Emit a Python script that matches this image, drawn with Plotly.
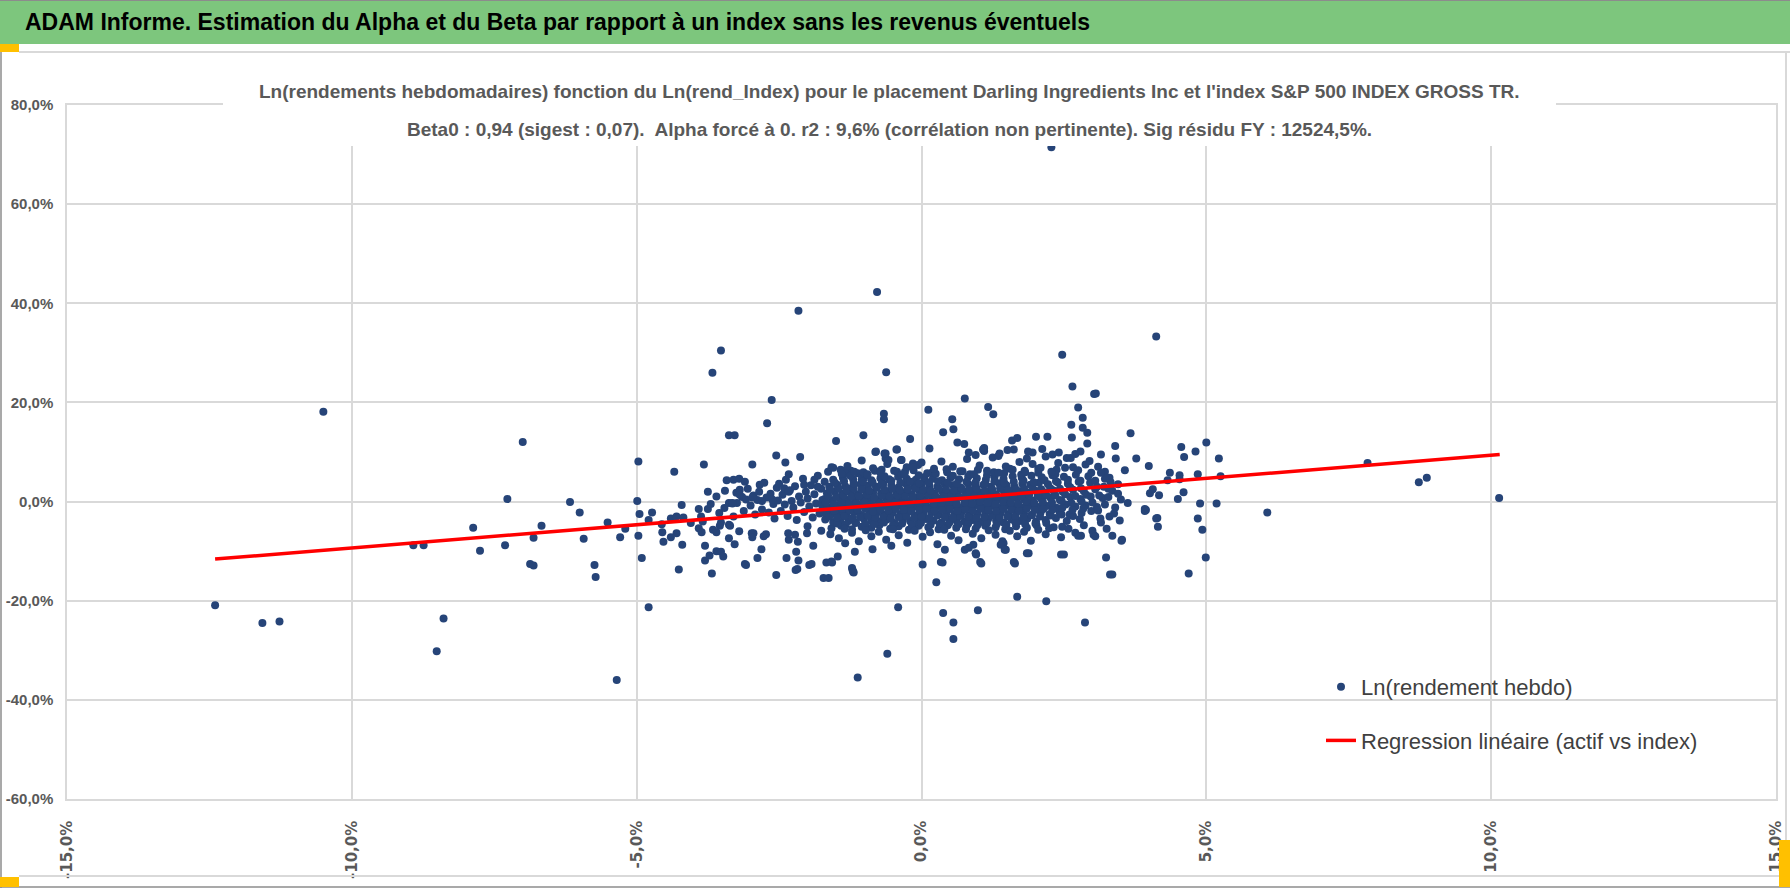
import plotly.graph_objects as go

# taille de la page et zone de tracé (pixels)
W, H = 1790, 888
L, R, T, B = 67, 14, 105, 89

titre_bandeau = "ADAM Informe. Estimation du Alpha et du Beta par rapport à un index sans les revenus éventuels"
titre_l1 = "Ln(rendements hebdomadaires) fonction du Ln(rend_Index) pour le placement Darling Ingredients Inc et l'index S&P 500 INDEX GROSS TR."
titre_l2 = "Beta0 : 0,94 (sigest : 0,07).  Alpha forcé à 0. r2 : 9,6% (corrélation non pertinente). Sig résidu FY : 12524,5%."

x_ticks = [-15, -10, -5, 0, 5, 10, 15]
x_tick_labels = ["-15,0%", "-10,0%", "-5,0%", "0,0%", "5,0%", "10,0%", "15,0%"]
y_ticks = [-60, -40, -20, 0, 20, 40, 60, 80]
y_tick_labels = ["-60,0%", "-40,0%", "-20,0%", "0,0%", "20,0%", "40,0%", "60,0%", "80,0%"]

# regression (actif vs index), extremites
reg_x = [-12.40, 10.15]
reg_y = [-11.6, 9.5]

# points a gauche (index < -1,7 %)
left_x = [
    -12.40, -11.57, -11.27, -10.50, -8.92, -8.74, -8.39, -8.51, -7.87, -7.75,
    -7.31, -7.27, -7.00, -6.87, -6.81, -6.81, -6.67, -6.17, -6.00, -5.93,
    -5.74, -5.72, -5.51, -5.35, -5.29, -5.20, -4.99, -4.97, -4.95, -4.97,
    -4.91, -4.79, -4.79, -4.73, -4.56, -4.55, -4.53, -4.40, -4.30, -4.30,
    -4.40, -4.34, -4.26, -4.20, -4.21, -4.18, -4.05, -3.91, -3.75, -3.87,
    -3.84, -3.91, -3.86, -3.82, -3.80, -3.80, -3.72, -3.68, -3.67, -3.66,
    -3.60, -3.60, -3.52, -3.48, -3.52, -3.54, -3.52, -3.46, -3.42, -3.38,
    -3.28, -3.38, -3.36, -3.38, -3.28, -3.30, -3.20, -3.10, -3.38, -3.32,
    -3.24, -3.30, -3.20, -3.10, -3.08, -2.97, -2.98, -2.95, -2.97, -2.88,
    -2.84, -2.81, -2.77, -2.73, -2.71, -2.63, -2.55, -2.55, -2.54, -2.39,
    -2.37, -2.33, -2.33, -2.34, -2.21, -2.20, -2.16, -2.16, -2.13, -2.17,
    -2.22, -1.97, -1.90, -2.01, -2.00, -1.72, -1.67, -1.76, -2.18, -1.93,
]
left_y = [
    -20.9, -24.5, -24.2, 18.1, -8.8, -8.8, -23.6, -30.2, -5.3, -9.9,
    -8.8, 0.5, 12.0, -12.6, -12.9, -7.3, -4.9, -0.1, -2.2, -7.5,
    -12.8, -15.2, -4.2, -36.0, -7.2, -5.5, 0.1, 8.1, -2.5, -6.9,
    -11.4, -21.3, -3.7, -2.2, -4.6, -6.2, -8.1, -3.4, -3.0, -6.4,
    -7.2, 6.0, -13.7, -8.7, -0.7, -3.2, -4.3, -1.5, -1.5, -3.0,
    -4.0, -5.4, -6.2, 7.5, -8.9, -11.9, -10.9, -14.5, 26.0, -5.7,
    -6.2, -10.0, -10.1, -11.1, 30.5, -4.9, -4.2, -1.3, 4.3, 13.4,
    13.4, -4.7, -4.9, -7.4, -8.6, 4.4, 4.6, 4.0, -0.3, -0.3,
    -0.3, -3.0, -6.0, -12.6, -12.8, 7.5, -6.4, -6.4, -7.2, -11.4,
    3.4, -9.6, -7.0, -6.6, 15.8, 20.5, 9.3, -14.8, 2.8, 7.9,
    -11.4, 5.5, -7.7, -6.4, -13.8, -10.1, 38.5, -11.9, 9.0, -8.1,
    -6.7, -12.8, -8.9, -6.4, -5.0, -15.4, -12.3, -5.9, -13.6, -12.6,
]

# bande semi-dense entre -3,8 % et -1,7 %
band_x = [
    -3.75, -3.70, -3.60, -3.55, -3.45, -3.25, -3.15, -3.12, -3.05, -3.00,
    -2.95, -2.92, -2.88, -2.85, -2.80, -2.76, -2.72, -2.68, -2.65, -2.60,
    -2.58, -2.52, -2.50, -2.47, -2.44, -2.40, -2.38, -2.35, -2.31, -2.28,
    -2.25, -2.22, -2.19, -2.15, -2.12, -2.08, -2.06, -2.03, -2.00, -1.97,
    -1.94, -1.91, -1.88, -1.85, -1.82, -1.79, -1.76, -1.74, -1.72, -1.70,
    -3.19, -3.19, -3.08, -3.32, -2.97, -2.80, -2.62, -2.41, -2.33, -2.06,
    -1.88, -1.82, -1.64, -1.58, -1.42, -1.35, -1.24, -1.12, -1.05, -1.01,
    -0.82, -0.80, -0.65, -0.63, -0.58, -0.44, -0.36, -0.26, -0.15, -0.29,
    -0.06,
]
band_y = [
    2.0, -0.5, 1.0, -2.3, 2.2, 1.8, 0.9, -1.9, 2.6, -0.8,
    1.2, -2.6, 0.3, 2.0, -1.6, 3.8, 0.8, -2.2, 1.6, -0.5,
    -3.4, 0.2, 3.6, -1.9, 1.4, -0.6, 4.4, -2.9, 2.3, 0.1,
    -1.2, 3.1, -3.7, 1.0, -0.2, 4.6, -2.1, 2.0, 0.6, -1.0,
    3.3, -3.2, 1.5, -0.4, 5.2, -2.4, 2.6, 0.3, -1.5, 4.0,
    2.4, 1.4, 0.4, -0.4, 0.8, 0.1, 0.4, 2.7, 2.0, 3.4,
    4.4, 3.0, 6.0, 6.9, 6.4, 5.7, 6.2, 5.7, 4.4, 4.7,
    6.2, 10.1, 9.7, 8.7, 8.4, 10.5, 8.4, 6.9, 7.7, 6.0,
    7.4,
]

# noyau dense, lu rangee par rangee
core_x = [
    -1.58, -1.41, -1.22, -1.05, -0.88, -0.74, -0.55, -0.40, -0.22, -0.05, 0.12, 0.30,
    0.46, 0.61, 0.79, 0.95, 1.12, 1.30, 1.47, 1.66, 1.85, 2.02, 2.24, 2.47,
    -1.69, -1.55, -1.42, -1.28, -1.15, -1.01, -0.88, -0.74, -0.61, -0.47, -0.33, -0.20,
    -0.06, 0.08, 0.21, 0.35, 0.49, 0.62, 0.76, 0.90, 1.03, 1.17, 1.31, 1.44,
    1.58, 1.72, 1.86, 2.01, 2.18, 2.36, 2.55, 2.78,
    -1.72, -1.59, -1.45, -1.32, -1.18, -1.05, -0.91, -0.78, -0.64, -0.51, -0.37, -0.24,
    -0.10, 0.03, 0.17, 0.30, 0.44, 0.58, 0.71, 0.85, 0.98, 1.12, 1.26, 1.39,
    1.53, 1.67, 1.80, 1.94, 2.09, 2.25, 2.42, 2.60, 2.81, 2.98,
    -1.74, -1.60, -1.47, -1.33, -1.20, -1.06, -0.93, -0.79, -0.66, -0.52, -0.39, -0.25,
    -0.12, 0.02, 0.15, 0.29, 0.42, 0.56, 0.69, 0.83, 0.96, 1.10, 1.23, 1.37,
    1.50, 1.64, 1.77, 1.91, 2.05, 2.20, 2.36, 2.53, 2.70, 2.88, 3.08,
    -1.70, -1.57, -1.43, -1.30, -1.16, -1.03, -0.89, -0.76, -0.62, -0.49, -0.35, -0.22,
    -0.08, 0.05, 0.19, 0.32, 0.46, 0.59, 0.73, 0.86, 1.00, 1.13, 1.27, 1.40,
    1.54, 1.67, 1.81, 1.95, 2.10, 2.26, 2.43, 2.61, 2.79, 2.97, 3.18,
    -1.66, -1.52, -1.39, -1.25, -1.12, -0.98, -0.85, -0.71, -0.58, -0.44, -0.31, -0.17,
    -0.04, 0.10, 0.23, 0.37, 0.50, 0.64, 0.77, 0.91, 1.04, 1.18, 1.31, 1.45,
    1.58, 1.72, 1.86, 2.00, 2.15, 2.31, 2.48, 2.66, 2.85, 3.05,
    -1.62, -1.48, -1.34, -1.21, -1.07, -0.94, -0.80, -0.67, -0.53, -0.40, -0.26, -0.13,
    0.01, 0.14, 0.28, 0.41, 0.55, 0.68, 0.82, 0.95, 1.09, 1.22, 1.36, 1.49,
    1.63, 1.77, 1.91, 2.06, 2.22, 2.39, 2.57, 2.76, 2.96,
    -1.55, -1.38, -1.20, -1.04, -0.88, -0.72, -0.57, -0.41, -0.26, -0.10, 0.05, 0.20,
    0.36, 0.51, 0.66, 0.82, 0.97, 1.13, 1.28, 1.44, 1.60, 1.76, 1.93, 2.11,
    2.30, 2.50, 2.71, 2.93,
    -1.35, -1.02, -0.70, -0.43, -0.14, 0.18, 0.44, 0.72, 0.99, 1.27, 1.55, 1.81,
    2.09, 2.37, 2.66,
]
core_y = [
    -5.4, -4.9, -5.6, -5.1, -5.3, -4.8, -5.5, -5.0, -5.7, -4.9, -5.2, -5.6,
    -4.8, -5.3, -5.0, -5.5, -4.9, -5.2, -5.6, -5.0, -5.3, -4.8, -5.4, -5.1,
    -3.6, -4.1, -3.7, -3.9, -4.2, -3.5, -3.8, -4.0, -3.6, -4.3, -3.7, -3.9,
    -4.1, -3.5, -3.8, -4.2, -3.6, -3.9, -4.0, -3.7, -4.1, -3.5, -3.8, -4.2,
    -3.6, -3.9, -3.4, -4.0, -3.7, -3.3, -3.9, -3.5,
    -2.2, -2.6, -2.3, -2.5, -2.1, -2.7, -2.4, -2.2, -2.6, -2.3, -2.5, -2.1,
    -2.8, -2.4, -2.2, -2.6, -2.3, -2.5, -2.0, -2.7, -2.4, -2.2, -2.6, -2.3,
    -2.5, -2.1, -2.4, -2.7, -2.2, -2.5, -2.0, -2.6, -2.3, -1.9,
    -0.9, -1.2, -0.8, -1.1, -1.3, -0.7, -1.0, -1.2, -0.9, -1.1, -0.8, -1.3,
    -1.0, -0.7, -1.2, -0.9, -1.1, -0.8, -1.2, -1.0, -0.7, -1.1, -0.9, -1.3,
    -0.8, -1.0, -1.2, -0.7, -1.1, -0.9, -1.2, -0.6, -1.0, -0.8, -1.1,
    0.5, 0.2, 0.6, 0.3, 0.1, 0.7, 0.4, 0.2, 0.6, 0.3, 0.5, 0.1,
    0.8, 0.4, 0.2, 0.6, 0.3, 0.5, 0.7, 0.2, 0.4, 0.6, 0.1, 0.5,
    0.3, 0.7, 0.4, 0.2, 0.6, 0.8, 0.3, 0.9, 0.5, 1.0, 0.7,
    1.7, 2.0, 1.6, 1.9, 1.5, 2.1, 1.8, 1.6, 2.0, 1.7, 1.9, 1.5,
    2.2, 1.8, 1.6, 2.0, 1.7, 1.9, 2.1, 1.6, 1.8, 2.0, 1.5, 1.9,
    1.7, 2.1, 1.8, 2.2, 1.9, 2.3, 2.0, 2.4, 2.1, 2.5,
    3.0, 3.4, 3.1, 2.9, 3.5, 3.2, 3.0, 3.6, 3.3, 2.9, 3.4, 3.1,
    3.7, 3.2, 3.0, 3.5, 3.3, 2.9, 3.6, 3.2, 3.4, 3.0, 3.7, 3.3,
    3.1, 3.6, 3.4, 3.8, 3.5, 3.9, 3.6, 4.0, 3.8,
    4.4, 4.8, 4.5, 4.9, 4.3, 4.7, 4.5, 5.0, 4.6, 4.4, 4.9, 4.6,
    4.3, 4.8, 4.5, 5.0, 4.7, 4.4, 4.9, 4.6, 5.1, 4.8, 5.2, 4.9,
    5.3, 5.0, 5.4, 5.1,
    6.2, 5.9, 6.4, 6.0, 6.3, 5.8, 6.5, 6.1, 6.4, 5.9, 6.6, 6.2,
    6.8, 6.4, 6.9,
]

# rangees intercalees du noyau
core2_x = [
    -1.48, -1.33, -1.16, -0.99, -0.83, -0.66, -0.50, -0.34, -0.17, -0.01, 0.16, 0.32,
    0.49, 0.65, 0.82, 0.98, 1.15, 1.32, 1.49, 1.65, 1.82, 2.00, 2.19,
    -1.62, -1.48, -1.35, -1.21, -1.08, -0.94, -0.81, -0.67, -0.54, -0.40, -0.27, -0.13,
    0.00, 0.14, 0.28, 0.41, 0.55, 0.69, 0.82, 0.96, 1.10, 1.24, 1.37, 1.51,
    1.65, 1.79, 1.93, 2.08, 2.27, 2.46, 2.66,
    -1.66, -1.53, -1.39, -1.26, -1.12, -0.99, -0.85, -0.72, -0.58, -0.45, -0.31, -0.18,
    -0.04, 0.09, 0.23, 0.36, 0.50, 0.63, 0.77, 0.90, 1.04, 1.17, 1.31, 1.44,
    1.58, 1.71, 1.85, 1.99, 2.14, 2.30, 2.47, 2.65, 2.84,
    -1.68, -1.54, -1.41, -1.27, -1.14, -1.00, -0.87, -0.73, -0.60, -0.46, -0.33, -0.19,
    -0.05, 0.08, 0.22, 0.35, 0.49, 0.62, 0.76, 0.89, 1.03, 1.16, 1.30, 1.43,
    1.57, 1.70, 1.84, 1.98, 2.13, 2.29, 2.46, 2.63, 2.81, 3.00,
    -1.64, -1.50, -1.37, -1.23, -1.10, -0.96, -0.83, -0.69, -0.56, -0.42, -0.29, -0.15,
    -0.02, 0.12, 0.25, 0.39, 0.52, 0.66, 0.79, 0.93, 1.06, 1.20, 1.33, 1.47,
    1.61, 1.75, 1.89, 2.04, 2.19, 2.35, 2.52, 2.70, 2.89,
    -1.60, -1.46, -1.32, -1.19, -1.05, -0.92, -0.78, -0.65, -0.51, -0.38, -0.24, -0.11,
    0.03, 0.16, 0.30, 0.43, 0.57, 0.70, 0.84, 0.97, 1.11, 1.24, 1.38, 1.52,
    1.66, 1.80, 1.95, 2.10, 2.26, 2.43, 2.61, 2.80,
    -1.52, -1.36, -1.19, -1.03, -0.86, -0.70, -0.53, -0.37, -0.20, -0.04, 0.13, 0.29,
    0.46, 0.62, 0.79, 0.95, 1.12, 1.28, 1.45, 1.62, 1.79, 1.97, 2.16, 2.36,
    2.57, 2.79,
    -1.25, -0.95, -0.65, -0.35, -0.05, 0.25, 0.55, 0.85, 1.15, 1.45, 1.75, 2.05,
    2.35,
]
core2_y = [
    -4.4, -4.7, -4.3, -4.6, -4.5, -4.2, -4.8, -4.4, -4.6, -4.3, -4.7, -4.5,
    -4.2, -4.6, -4.4, -4.8, -4.3, -4.5, -4.7, -4.2, -4.6, -4.4, -4.3,
    -3.0, -3.2, -2.9, -3.3, -3.1, -2.8, -3.2, -3.0, -3.4, -3.1, -2.9, -3.2,
    -3.0, -3.3, -2.8, -3.1, -3.2, -2.9, -3.0, -3.3, -3.1, -2.8, -3.2, -3.0,
    -2.9, -3.1, -2.7, -3.0, -2.8, -2.6, -2.9,
    -1.6, -1.9, -1.5, -1.8, -1.7, -1.4, -2.0, -1.6, -1.8, -1.5, -1.7, -1.9,
    -1.6, -1.4, -1.8, -1.7, -1.5, -1.9, -1.6, -1.8, -1.4, -1.7, -1.9, -1.5,
    -1.6, -1.8, -1.4, -1.7, -1.5, -1.6, -1.3, -1.7, -1.4,
    -0.2, -0.5, -0.1, -0.4, -0.3, 0.0, -0.6, -0.2, -0.4, -0.1, -0.3, -0.5,
    -0.2, 0.0, -0.4, -0.3, -0.1, -0.5, -0.2, -0.4, 0.0, -0.3, -0.5, -0.1,
    -0.2, -0.4, 0.0, -0.3, -0.1, -0.2, 0.1, -0.3, 0.0, -0.2,
    1.2, 0.9, 1.3, 1.0, 1.1, 1.4, 0.8, 1.2, 1.0, 1.3, 1.1, 0.9,
    1.2, 1.4, 1.0, 1.1, 1.3, 0.9, 1.2, 1.0, 1.4, 1.1, 0.9, 1.3,
    1.2, 1.0, 1.4, 1.1, 1.3, 1.2, 1.5, 1.1, 1.4,
    2.4, 2.7, 2.3, 2.6, 2.5, 2.2, 2.8, 2.4, 2.6, 2.3, 2.5, 2.7,
    2.4, 2.2, 2.6, 2.5, 2.3, 2.7, 2.4, 2.6, 2.2, 2.5, 2.7, 2.3,
    2.4, 2.6, 2.8, 2.5, 2.7, 2.6, 2.9, 2.7,
    3.8, 4.1, 3.7, 4.0, 3.9, 3.6, 4.2, 3.8, 4.0, 3.7, 3.9, 4.1,
    3.8, 3.6, 4.0, 3.9, 3.7, 4.1, 3.8, 4.0, 4.2, 3.9, 4.3, 4.1,
    4.4, 4.2,
    5.2, 5.5, 5.1, 5.4, 5.3, 5.6, 5.2, 5.5, 5.3, 5.7, 5.4, 5.8,
    5.5,
]

# frange au-dessus et au-dessous du noyau, et points isoles du centre
fringe_x = [
    -1.55, -1.40, -1.30, -1.18, -1.05, -0.95, -0.85, -0.72, -0.60, -0.48,
    -0.30, -0.15, 0.00, 0.10, 0.22, 0.35, 0.45, 0.55, 0.68, 0.80,
    0.92, 1.02, 1.15, 1.25, 1.35, 1.48, 1.60, 1.72, 1.82, 1.95,
    2.05, 2.18, 2.28, 2.40, 2.52, 2.62, 2.75, 2.88, 2.98, 3.10,
    3.22, 3.30, 3.45, 3.20, 3.35, 3.05,
    1.10, 1.35, 1.62, 1.95, 2.12, 2.30, 2.55, 2.70, 2.95, 3.15, 0.95, 1.85,
    -1.60, -1.45, -1.35, -1.22, -1.10, -0.98, -0.88, -0.75, -0.62, -0.50,
    -0.40, -0.25, -0.12, 0.02, 0.15, 0.28, 0.40, 0.52, 0.65, 0.78,
    0.90, 1.05, 1.18, 1.30, 1.42, 1.55, 1.68, 1.80, 1.92, 2.05,
    2.18, 2.32, 2.45, 2.58, 2.70, 2.85, 3.00, 3.15, 3.30, 3.40,
    3.50,
    2.28, -0.78, -0.62, -0.66, -0.66, 2.47, 2.65, 3.03, 0.76, 0.12,
    1.17, 1.26, 0.54, 0.56, 0.38, 0.63, 0.75, 2.75, 2.83, 2.63,
    2.83, 2.91, 2.64, 2.91, 2.79, 2.41, -1.50, -1.02, -0.20, -0.81,
    -0.63, -0.43, -0.35, 0.14, 0.83, 1.08, 1.10, 1.37, 1.59, 1.68,
    1.51, 1.87, 2.01, 2.21, -1.63, -1.47, -1.57, -1.21, -1.19, -1.17,
    -1.34, -0.86, -0.53, -0.41, 0.02, 0.26, 0.34, 0.41, 0.76, 0.99,
    1.03, 1.68, 2.19, 1.62, 1.85, 2.45, 2.75, 1.44, 1.48, 0.91,
    0.95, -1.12, -0.60, 0.38, 0.56, 0.56, 2.87, -1.58, -1.22, -1.20,
    3.31, 1.88, 1.64, 1.05, 0.37, 0.83, 0.96, 1.39, 1.46, 2.50,
]
fringe_y = [
    6.8, 5.6, 7.2, 6.0, 8.3, 5.4, 6.7, 5.8, 7.6, 6.2,
    5.5, 6.9, 7.9, 5.7, 6.6, 8.1, 5.9, 7.0, 6.1, 8.6,
    5.5, 7.3, 6.2, 8.9, 5.8, 7.1, 6.4, 8.0, 5.9, 7.6,
    6.6, 9.1, 6.0, 7.8, 6.8, 8.8, 6.3, 7.5, 5.8, 7.0,
    6.0, 4.8, 3.5, 3.0, 2.2, 4.2,
    10.2, 9.2, 10.5, 9.9, 10.6, 9.5, 8.8, 9.6, 8.2, 9.5, 9.4, 8.7,
    -6.6, -7.4, -5.5, -6.3, -8.0, -5.8, -7.0, -6.1, -7.7, -5.6,
    -6.8, -8.3, -5.9, -7.1, -6.2, -8.6, -5.7, -6.9, -7.8, -5.6,
    -6.5, -7.4, -5.8, -6.7, -8.0, -5.9, -7.0, -6.1, -7.9, -5.7,
    -6.6, -5.2, -7.2, -5.5, -6.3, -4.8, -5.9, -4.2, -3.0, -1.2,
    0.4,
    71.5, 42.3, 26.1, 17.7, 16.6, 29.6, 23.2, 21.7, 20.8, 18.5,
    19.1, 17.6, 16.6, 14.6, 14.0, 11.9, 11.6, 19.0, 16.9, 15.5,
    14.9, 13.9, 12.9, 11.7, 10.1, 9.9, 12.2, 13.4, 12.6, 10.0,
    9.7, 10.5, 8.4, 10.7, 9.9, 10.5, 10.8, 9.7, 12.3, 12.8,
    10.4, 10.1, 13.1, 13.1, -15.4, -11.1, -12.3, -13.8, -14.3, -10.1,
    -8.4, -9.6, -8.9, -21.3, -12.7, -16.3, -12.2, -9.7, -9.7, -21.9,
    -12.2, -19.2, -20.1, -12.2, -10.4, -10.7, -6.9, -8.4, -9.7, -8.7,
    -10.4, -35.5, -30.7, -22.5, -24.4, -27.7, -24.4, -12.1, -13.4, -14.2,
    -14.7, -10.4, -12.5, -12.5, -12.3, -9.3, -10.7, -8.7, -9.7, -10.7,
]

# points a droite (index > 3 %)
right_x = [
    5.22, 5.25, 5.18, 5.00, 4.89, 4.85, 4.93, 4.99, 4.69, 4.81,
    4.61, 4.56, 4.85, 4.53, 4.53, 4.60, 4.50, 4.36, 4.32, 4.14,
    4.15, 3.94, 4.17, 4.01, 4.06, 3.99, 3.77, 3.57, 3.41, 3.40,
    3.62, 3.52, 3.35, 3.24, 3.35, 3.25, 3.02, 3.05, 2.80, 4.12,
    3.06, 3.67, 3.92, 3.92, 4.12, 6.07, 7.83, 8.73, 8.87, 10.14,
    3.12, 3.22, 3.28, 3.38, 3.45, 3.10, 3.32, 3.48, 3.51, 3.14,
    3.22, 3.15, 3.28, 3.08,
]
right_y = [
    8.7, 5.1, -0.4, 11.9, -0.4, -3.4, -5.7, -11.3, -14.5, 10.1,
    9.0, 11.0, 5.5, 5.3, 4.5, 1.9, 0.5, 5.8, 4.3, -3.3,
    -5.1, -1.7, 1.3, 1.7, 2.5, 7.2, 8.7, 6.3, 8.7, 11.2,
    -0.3, -7.7, -14.7, -11.3, -6.9, -5.5, -6.7, -7.0, -6.9, 33.3,
    21.8, 13.8, -1.5, -1.9, -3.4, -2.2, 7.8, 3.9, 4.8, 0.7,
    1.2, -0.6, 0.9, -2.4, 1.6, -1.8, 3.9, -3.8, -7.9, -3.4,
    4.6, 5.8, 2.6, 3.0,
]

idx_ln = left_x + band_x + core_x + core2_x + fringe_x + right_x
actif_ln = left_y + band_y + core_y + core2_y + fringe_y + right_y


def px_x(p):
    return (p - L) / (W - L - R)


def px_y(p):
    return (H - B - p) / (H - T - B)


gris_grille = "#D9D9D9"
police = "Liberation Sans, Arial, sans-serif"

fig = go.Figure()

fig.add_trace(go.Scatter(x=idx_ln, y=actif_ln, mode="markers",
                         name="Ln(rendement hebdo)", legendgroup="a",
                         marker=dict(color="#264478", size=8, line=dict(width=0))))

fig.add_trace(go.Scatter(x=reg_x, y=reg_y, mode="lines",
                         name="Regression linéaire (actif vs index)", legendgroup="b",
                         line=dict(color="#FF0000", width=3.5)))

fig.update_layout(
    width=W, height=H,
    margin=dict(l=L, r=R, t=T, b=B, pad=0),
    paper_bgcolor="white", plot_bgcolor="white",
    showlegend=True,
    legend=dict(x=px_x(1321), y=px_y(666), xanchor="left", yanchor="top",
                bgcolor="rgba(0,0,0,0)", borderwidth=0, tracegroupgap=22,
                itemwidth=30,
                font=dict(family=police, size=22, color="#404040")),
    xaxis=dict(range=[-15, 15], tickvals=x_ticks, ticktext=x_tick_labels,
               tickangle=-90, ticks="", ticklabelstandoff=14, automargin=False,
               showgrid=True, gridcolor=gris_grille, gridwidth=1.5,
               zeroline=False, showline=True, linecolor=gris_grille, linewidth=1.5, mirror=True,
               tickfont=dict(family="DejaVu Sans, Verdana, sans-serif", size=15, color="#595959",
                             weight="bold")),
    yaxis=dict(range=[-60, 80], tickvals=y_ticks, ticktext=y_tick_labels,
               ticks="", ticklabelstandoff=9, automargin=False,
               showgrid=True, gridcolor=gris_grille, gridwidth=1.5,
               zeroline=False, showline=True, linecolor=gris_grille, linewidth=1.5, mirror=True,
               tickfont=dict(family=police, size=15, color="#595959", weight="bold")),
)

shapes = [
    # bandeau vert
    dict(type="rect", xref="paper", yref="paper", x0=px_x(0), x1=px_x(W), y0=px_y(44), y1=px_y(0),
         fillcolor="#7DC67D", line=dict(width=0), layer="below"),
    dict(type="line", xref="paper", yref="paper", x0=px_x(0), x1=px_x(W), y0=px_y(0.5), y1=px_y(0.5),
         line=dict(color="#8C8C8C", width=1)),
    # liseré gris sous le bandeau et cadre
    dict(type="line", xref="paper", yref="paper", x0=px_x(19), x1=px_x(W), y0=px_y(52), y1=px_y(52),
         line=dict(color=gris_grille, width=2)),
    dict(type="line", xref="paper", yref="paper", x0=px_x(1), x1=px_x(1), y0=px_y(52), y1=px_y(888),
         line=dict(color="#8C8C8C", width=1.5)),
    dict(type="line", xref="paper", yref="paper", x0=px_x(19), x1=px_x(1779), y0=px_y(876), y1=px_y(876),
         line=dict(color=gris_grille, width=2)),
    dict(type="line", xref="paper", yref="paper", x0=px_x(0), x1=px_x(W), y0=px_y(887), y1=px_y(887),
         line=dict(color="#8C8C8C", width=1.5)),
    dict(type="line", xref="paper", yref="paper", x0=px_x(1786), x1=px_x(1786), y0=px_y(52), y1=px_y(840),
         line=dict(color=gris_grille, width=2)),
    # poignées orange
    dict(type="rect", xref="paper", yref="paper", x0=px_x(0), x1=px_x(19), y0=px_y(52), y1=px_y(44),
         fillcolor="#FFC000", line=dict(width=0)),
    dict(type="rect", xref="paper", yref="paper", x0=px_x(0), x1=px_x(19), y0=px_y(887), y1=px_y(877),
         fillcolor="#FFC000", line=dict(width=0)),
    dict(type="rect", xref="paper", yref="paper", x0=px_x(1779), x1=px_x(W), y0=px_y(887), y1=px_y(840),
         fillcolor="#FFC000", line=dict(width=0)),
    # fond blanc du titre du graphique
    dict(type="rect", xref="paper", yref="paper", x0=px_x(223), x1=px_x(1556), y0=px_y(146), y1=px_y(68),
         fillcolor="white", line=dict(width=0), layer="above"),
]
fig.update_layout(shapes=shapes)

fig.add_annotation(text="<b>" + titre_bandeau + "</b>", xref="paper", yref="paper",
                   x=px_x(23), y=px_y(22), xanchor="left", yanchor="middle", showarrow=False,
                   font=dict(family=police, size=23, color="black"))
fig.add_annotation(text="<b>" + titre_l1 + "</b>", xref="paper", yref="paper",
                   x=px_x(889), y=px_y(91), xanchor="center", yanchor="middle", showarrow=False,
                   font=dict(family=police, size=19, color="#595959"))
fig.add_annotation(text="<b>" + titre_l2 + "</b>", xref="paper", yref="paper",
                   x=px_x(889), y=px_y(129), xanchor="center", yanchor="middle", showarrow=False,
                   font=dict(family=police, size=19, color="#595959"))

fig.write_html("out.html", config={"displayModeBar": False},
               post_script="document.body.style.margin='0';document.body.style.overflow='hidden';")
